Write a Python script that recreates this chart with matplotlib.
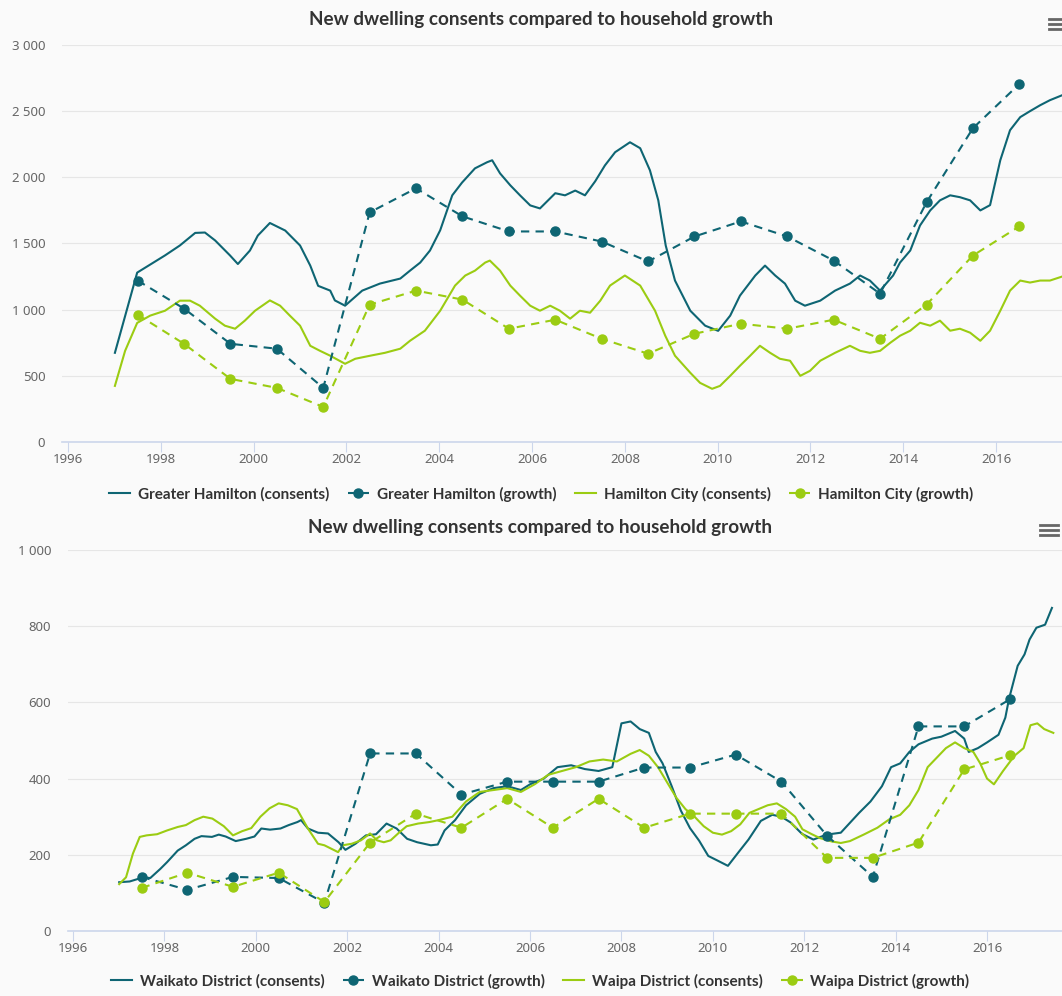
import matplotlib
matplotlib.use("Agg")
import matplotlib.pyplot as plt
from matplotlib.lines import Line2D
from matplotlib.ticker import FuncFormatter, MultipleLocator

plt.rcParams['font.family'] = ['Noto Sans', 'DejaVu Sans']
BOLD_FONT = ['Lato', 'DejaVu Sans']

# ===============================
# data
# ===============================
growth_years = [1997.5, 1998.5, 1999.5, 2000.5, 2001.5, 2002.5, 2003.5, 2004.5, 2005.5, 2006.5,
                2007.5, 2008.5, 2009.5, 2010.5, 2011.5, 2012.5, 2013.5, 2014.5, 2015.5, 2016.5]

# --- chart 1 ---
gh_cons_years = [1997.01, 1997.49, 1998.09, 1998.41, 1998.74, 1998.95, 1999.17, 1999.49, 1999.66,
                 1999.92, 2000.09, 2000.35, 2000.68, 2001.0, 2001.22, 2001.39, 2001.65, 2001.75,
                 2001.97, 2002.34, 2002.72, 2003.16, 2003.37, 2003.59, 2003.8, 2004.02, 2004.28,
                 2004.49, 2004.77, 2005.03, 2005.14, 2005.31, 2005.53, 2005.74, 2005.96, 2006.17,
                 2006.5, 2006.71, 2006.93, 2007.14, 2007.36, 2007.57, 2007.79, 2008.11, 2008.33,
                 2008.54, 2008.72, 2008.88, 2009.08, 2009.41, 2009.73, 2010.01, 2010.27, 2010.48,
                 2010.81, 2011.02, 2011.24, 2011.45, 2011.67, 2011.88, 2012.21, 2012.53, 2012.85,
                 2013.07, 2013.28, 2013.5, 2013.78, 2013.93, 2014.15, 2014.36, 2014.58, 2014.79,
                 2015.01, 2015.22, 2015.44, 2015.66, 2015.87, 2016.09, 2016.3, 2016.52, 2016.73,
                 2016.95, 2017.16, 2017.42]
gh_cons = [674, 1280, 1410, 1485, 1580, 1583, 1523, 1410, 1345,
           1447, 1560, 1655, 1598, 1485, 1333, 1180, 1144, 1070,
           1030, 1144, 1197, 1235, 1295, 1356, 1447, 1600, 1864,
           1960, 2068, 2114, 2129, 2030, 1940, 1864, 1788, 1765,
           1880, 1864, 1900, 1864, 1970, 2090, 2190, 2265, 2220,
           2053, 1826, 1485, 1220, 992, 879, 840, 955, 1106,
           1258, 1333, 1258, 1197, 1068, 1030, 1068, 1144, 1197,
           1258, 1220, 1144, 1258, 1356, 1447, 1636, 1750, 1826,
           1864, 1850, 1826, 1750, 1790, 2129, 2356, 2455, 2500,
           2545, 2583, 2620]
gh_growth = [1220, 1008, 742, 705, 409, 1735, 1917, 1705, 1591, 1591,
             1515, 1364, 1553, 1667, 1553, 1371, 1121, 1811, 2371, 2705]

hc_cons_years = [1997.01, 1997.23, 1997.49, 1997.77, 1998.09, 1998.41, 1998.63, 1998.84, 1999.17,
                 1999.38, 1999.6, 1999.81, 2000.03, 2000.35, 2000.57, 2000.78, 2001.0, 2001.22,
                 2001.43, 2001.65, 2001.97, 2002.19, 2002.51, 2002.83, 2003.16, 2003.37, 2003.69,
                 2004.02, 2004.34, 2004.56, 2004.77, 2004.99, 2005.09, 2005.31, 2005.53, 2005.74,
                 2005.96, 2006.17, 2006.39, 2006.6, 2006.82, 2007.03, 2007.25, 2007.47, 2007.68,
                 2008.0, 2008.33, 2008.65, 2008.87, 2009.08, 2009.41, 2009.62, 2009.88, 2010.05,
                 2010.27, 2010.48, 2010.7, 2010.91, 2011.13, 2011.34, 2011.56, 2011.78, 2011.99,
                 2012.21, 2012.53, 2012.85, 2013.07, 2013.28, 2013.5, 2013.72, 2013.93, 2014.15,
                 2014.36, 2014.58, 2014.79, 2015.01, 2015.22, 2015.44, 2015.66, 2015.87, 2016.09,
                 2016.3, 2016.52, 2016.73, 2016.95, 2017.16, 2017.42]
hc_cons = [424, 689, 900, 955, 992, 1068, 1068, 1030, 932,
           879, 856, 917, 992, 1070, 1030, 955, 879, 727,
           689, 652, 591, 629, 652, 674, 705, 765, 841,
           992, 1182, 1258, 1295, 1356, 1371, 1295, 1182, 1106,
           1030, 992, 1030, 992, 932, 992, 977, 1068, 1182,
           1258, 1182, 992, 803, 652, 523, 447, 402, 424,
           500, 576, 652, 727, 674, 629, 614, 500, 538,
           614, 674, 727, 689, 674, 689, 750, 803, 841,
           901, 879, 917, 841, 856, 826, 765, 841, 992,
           1144, 1220, 1205, 1220, 1220, 1250]
hc_growth = [962, 742, 477, 409, 265, 1038, 1144, 1076, 856, 924,
             780, 667, 818, 894, 856, 924, 780, 1038, 1409, 1629]

# --- chart 2 ---
wk_cons_years = [1997.01, 1997.24, 1997.54, 1997.69, 1997.91, 1998.06, 1998.29, 1998.47, 1998.66,
                 1998.81, 1999.04, 1999.19, 1999.34, 1999.56, 1999.79, 1999.97, 2000.12, 2000.31,
                 2000.54, 2000.72, 2000.91, 2000.99, 2001.14, 2001.36, 2001.58, 2001.81, 2001.96,
                 2002.18, 2002.41, 2002.63, 2002.86, 2003.08, 2003.31, 2003.53, 2003.83, 2003.98,
                 2004.13, 2004.36, 2004.6, 2004.9, 2005.2, 2005.5, 2005.8, 2006.0, 2006.3, 2006.6,
                 2006.9, 2007.2, 2007.5, 2007.8, 2008.0, 2008.2, 2008.4, 2008.6, 2008.75, 2008.9,
                 2009.1, 2009.3, 2009.5, 2009.7, 2009.9, 2010.1, 2010.33, 2010.55, 2010.78, 2011.05,
                 2011.3, 2011.5, 2011.7, 2011.95, 2012.2, 2012.49, 2012.8, 2013.0, 2013.2, 2013.45,
                 2013.7, 2013.9, 2014.1, 2014.3, 2014.5, 2014.8, 2015.0, 2015.3, 2015.5, 2015.6,
                 2015.8, 2016.0, 2016.25, 2016.4, 2016.48, 2016.67, 2016.82, 2016.93, 2017.08,
                 2017.27, 2017.42]
wk_cons = [128, 130, 141, 139, 163, 181, 211, 225, 242,
           249, 247, 253, 248, 236, 242, 248, 269, 266,
           269, 278, 286, 291, 269, 258, 256, 233, 213,
           229, 251, 254, 282, 269, 242, 233, 225, 227,
           264, 291, 330, 360, 375, 380, 370, 385, 400, 430,
           435, 425, 420, 430, 545, 550, 530, 520, 470, 440,
           380, 316, 270, 237, 197, 185, 171, 205, 240, 289,
           305, 300, 285, 255, 240, 253, 258, 284, 310, 340,
           380, 430, 440, 470, 490, 505, 510, 525, 505, 470,
           480, 495, 515, 560, 609, 696, 726, 765, 796,
           804, 848]
wk_growth = [142, 108, 142, 139, 74, 466, 466, 358, 392, 392,
             392, 429, 429, 463, 392, 250, 142, 537, 537, 608]

wp_cons_years = [1997.01, 1997.16, 1997.31, 1997.46, 1997.61, 1997.84, 1998.06, 1998.29, 1998.47,
                 1998.66, 1998.85, 1999.05, 1999.3, 1999.5, 1999.7, 1999.9, 2000.1, 2000.3, 2000.5,
                 2000.7, 2000.9, 2001.14, 2001.36, 2001.5, 2001.8, 2001.9, 2002.1, 2002.3, 2002.5,
                 2002.65, 2002.8, 2002.95, 2003.15, 2003.3, 2003.55, 2003.8, 2004.0, 2004.3, 2004.6,
                 2004.9, 2005.2, 2005.5, 2005.8, 2006.1, 2006.4, 2006.7, 2007.0, 2007.3, 2007.6,
                 2007.9, 2008.2, 2008.4, 2008.6, 2008.8, 2009.0, 2009.2, 2009.4, 2009.6, 2009.8,
                 2010.0, 2010.2, 2010.4, 2010.6, 2010.8, 2011.0, 2011.2, 2011.4, 2011.6, 2011.8,
                 2011.96, 2012.15, 2012.34, 2012.6, 2012.8, 2013.0, 2013.3, 2013.6, 2013.86, 2014.1,
                 2014.3, 2014.5, 2014.7, 2014.9, 2015.1, 2015.3, 2015.5, 2015.7, 2015.85, 2016.0,
                 2016.15, 2016.35, 2016.6, 2016.8, 2016.95, 2017.1, 2017.25, 2017.45]
wp_cons = [123, 141, 203, 247, 251, 254, 264, 273, 278,
           291, 300, 295, 275, 251, 262, 270, 300, 322, 335,
           330, 320, 269, 229, 225, 207, 225, 229, 238, 256,
           238, 233, 238, 260, 275, 282, 286, 291, 300, 340,
           365, 370, 375, 365, 385, 410, 420, 430, 445, 450,
           445, 465, 475, 460, 430, 390, 350, 320, 300, 275,
           258, 253, 262, 280, 310, 320, 330, 335, 320, 300,
           267, 255, 244, 235, 231, 236, 253, 271, 293, 305,
           330, 370, 430, 455, 480, 495, 480, 470, 440, 400,
           385, 420, 460, 480, 540, 545, 530, 520]
wp_growth = [113, 153, 116, 153, 76, 232, 308, 271, 347, 271,
             347, 271, 308, 308, 308, 192, 192, 232, 424, 461]

title = "New dwelling consents compared to household growth"
DARK = "#0e6573"
LIME = "#9bcc12"

# ===============================
# figure
# ===============================
W, H = 1062, 996
fig = plt.figure(figsize=(W / 100, H / 100), dpi=100, facecolor="#fafafa")


def px_axes(left, top, right, bottom):
    return fig.add_axes([left / W, 1 - bottom / H, (right - left) / W, (bottom - top) / H])


def style_axis(ax, ymax, ystep, xlim):
    ax.set_facecolor("#fafafa")
    ax.set_xlim(*xlim)
    ax.set_ylim(0, ymax)
    ax.yaxis.set_major_locator(MultipleLocator(ystep))
    ax.xaxis.set_major_locator(MultipleLocator(2))
    ax.yaxis.set_major_formatter(FuncFormatter(lambda v, p: f"{int(v):,}".replace(",", " ")))
    ax.xaxis.set_major_formatter(FuncFormatter(lambda v, p: f"{int(v)}"))
    for s in ["top", "right", "left"]:
        ax.spines[s].set_visible(False)
    ax.spines["bottom"].set_color("#ccd6eb")
    ax.spines["bottom"].set_linewidth(1.2)
    ax.grid(axis="y", color="#e6e6e6", linewidth=0.8)
    ax.set_axisbelow(True)
    ax.tick_params(axis="y", length=0, pad=12, labelsize=9.5, labelcolor="#666666")
    ax.tick_params(axis="x", length=7, width=0.8, color="#ccd6eb", pad=1,
                   labelsize=9.5, labelcolor="#666666")


def draw_series(ax, cy, cv, gv, color, name):
    ax.plot(cy, cv, color=color, linewidth=1.5, label=f"{name} (consents)", zorder=3)
    ax.plot(growth_years, gv, color=color, linewidth=1.5, dashes=(4, 3), marker="o",
            markersize=6.5, label=f"{name} (growth)", zorder=4)


def hamburger(x0, x1, ys):
    for y in ys:
        fig.add_artist(Line2D([x0 / W, x1 / W], [1 - y / H, 1 - y / H], color="#666666",
                              linewidth=2, transform=fig.transFigure))


def add_title(cx, cy):
    fig.text(cx / W, 1 - cy / H, title, ha="center", va="center", fontsize=13.6,
             fontweight="bold", family=BOLD_FONT, color="#333333")


def add_legend(ax, cx, cy):
    fig.legend(*ax.get_legend_handles_labels(), loc="center",
               bbox_to_anchor=(cx / W, 1 - cy / H), ncol=4, frameon=False,
               prop={"weight": "bold", "size": 11, "family": BOLD_FONT}, labelcolor="#333333",
               handlelength=1.4, handletextpad=0.5, columnspacing=1.2, numpoints=1)


# chart 1
ax1 = px_axes(62, 45, 1062, 442)
style_axis(ax1, 3000, 500, (1995.87, 2017.42))
draw_series(ax1, gh_cons_years, gh_cons, gh_growth, DARK, "Greater Hamilton")
draw_series(ax1, hc_cons_years, hc_cons, hc_growth, LIME, "Hamilton City")
add_title(541, 20)
add_legend(ax1, 541, 494)
hamburger(1049, 1062, [19, 24, 29])

# chart 2
ax2 = px_axes(68, 550, 1062, 931)
style_axis(ax2, 1000, 200, (1995.89, 2017.64))
draw_series(ax2, wk_cons_years, wk_cons, wk_growth, DARK, "Waikato District")
draw_series(ax2, wp_cons_years, wp_cons, wp_growth, LIME, "Waipa District")
add_title(540, 527)
add_legend(ax2, 540, 981)
hamburger(1040, 1058, [525, 530, 535])

fig.savefig("out.png", dpi=100, facecolor=fig.get_facecolor())
